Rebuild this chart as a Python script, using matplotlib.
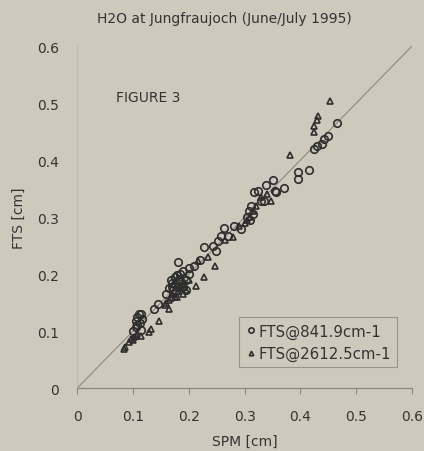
import matplotlib.pyplot as plt

# values (SPM vs FTS total column, cm)
spm_841 = [0.465, 0.450, 0.443, 0.438, 0.429, 0.425, 0.416, 0.396, 0.396, 0.371,
           0.355, 0.357, 0.351, 0.339, 0.317, 0.324, 0.312, 0.330, 0.335, 0.308,
           0.315, 0.281, 0.263, 0.294, 0.270, 0.258, 0.252, 0.243, 0.227, 0.249,
           0.180, 0.190, 0.185, 0.200, 0.175, 0.195, 0.170, 0.180, 0.165, 0.190,
           0.175, 0.160, 0.144, 0.137, 0.110, 0.108, 0.117, 0.105, 0.108, 0.114,
           0.100, 0.115, 0.210, 0.220, 0.200, 0.305, 0.310, 0.185, 0.170, 0.195,
           0.168, 0.178, 0.188, 0.172, 0.182, 0.112, 0.106]
fts_841 = [0.465, 0.442, 0.437, 0.428, 0.425, 0.419, 0.382, 0.379, 0.367, 0.351,
           0.346, 0.344, 0.365, 0.356, 0.344, 0.346, 0.319, 0.328, 0.328, 0.310,
           0.305, 0.284, 0.281, 0.279, 0.267, 0.267, 0.258, 0.249, 0.247, 0.240,
           0.221, 0.205, 0.200, 0.200, 0.195, 0.190, 0.185, 0.180, 0.175, 0.178,
           0.168, 0.165, 0.147, 0.139, 0.130, 0.125, 0.121, 0.118, 0.110, 0.102,
           0.100, 0.130, 0.215, 0.225, 0.210, 0.300, 0.295, 0.188, 0.178, 0.172,
           0.190, 0.198, 0.185, 0.172, 0.192, 0.115, 0.108]

spm_2612 = [0.452, 0.432, 0.425, 0.425, 0.430, 0.382, 0.348, 0.320, 0.310, 0.305,
            0.315, 0.300, 0.279, 0.234, 0.216, 0.247, 0.227, 0.213, 0.200, 0.190,
            0.185, 0.180, 0.170, 0.175, 0.165, 0.160, 0.190, 0.164, 0.146, 0.132,
            0.128, 0.114, 0.101, 0.092, 0.086, 0.083, 0.100, 0.108, 0.265, 0.290,
            0.330, 0.340, 0.178, 0.168, 0.158, 0.172, 0.183, 0.195, 0.105, 0.096]
fts_2612 = [0.504, 0.477, 0.460, 0.449, 0.470, 0.409, 0.328, 0.320, 0.300, 0.295,
            0.310, 0.290, 0.265, 0.230, 0.223, 0.214, 0.195, 0.179, 0.190, 0.185,
            0.175, 0.170, 0.165, 0.160, 0.155, 0.150, 0.165, 0.139, 0.118, 0.104,
            0.098, 0.091, 0.089, 0.081, 0.072, 0.068, 0.085, 0.095, 0.260, 0.285,
            0.335, 0.340, 0.160, 0.158, 0.145, 0.182, 0.178, 0.172, 0.092, 0.086]

ticks = [0, 0.1, 0.2, 0.3, 0.4, 0.5, 0.6]
tick_labels = ['0', '0.1', '0.2', '0.3', '0.4', '0.5', '0.6']

bg = '#cdcabd'
ink = '#2e2e2e'

fig = plt.figure(figsize=(4.24, 4.52), dpi=100, facecolor=bg)
ax = fig.add_axes([0.182, 0.139, 0.790, 0.757], facecolor=bg)

# 1:1 line
ax.plot([0, 0.6], [0, 0.6], color='#8a877e', linewidth=0.8, zorder=1)

ax.plot(spm_841, fts_841, linestyle='none', marker='o', markersize=5.4,
        markerfacecolor='none', markeredgecolor=ink, markeredgewidth=1.2,
        label='FTS@841.9cm-1', zorder=3)
ax.plot(spm_2612, fts_2612, linestyle='none', marker='^', markersize=4.6,
        markerfacecolor='none', markeredgecolor=ink, markeredgewidth=1.2,
        label='FTS@2612.5cm-1', zorder=3)

ax.set_xlim(0, 0.6)
ax.set_ylim(0, 0.6)
ax.set_xticks(ticks)
ax.set_xticklabels(tick_labels)
ax.set_yticks(ticks)
ax.set_yticklabels(tick_labels)
ax.tick_params(axis='x', colors='#8a877e', labelcolor='#333333', labelsize=10,
               length=4, pad=11)
ax.tick_params(axis='y', length=0, labelcolor='#333333', labelsize=10, pad=13)

for side in ['top', 'right']:
    ax.spines[side].set_visible(False)
ax.spines['left'].set_color('#bdbaae')
ax.spines['left'].set_linewidth(0.8)
ax.spines['bottom'].set_color('#8a877e')
ax.spines['bottom'].set_linewidth(0.9)

ax.set_xlabel('SPM [cm]', fontsize=10, color='#333333', labelpad=8)
ax.set_ylabel('FTS [cm]', fontsize=10, color='#333333', labelpad=8)
fig.text(0.53, 0.958, 'H2O at Jungfraujoch (June/July 1995)', ha='center',
         va='center', fontsize=10, color='#333333')
ax.text(0.07, 0.51, 'FIGURE 3', fontsize=10, color='#333333', va='center')

leg = ax.legend(loc='lower right', bbox_to_anchor=(0.955, 0.061), fontsize=10.8,
                frameon=True, fancybox=False, handletextpad=0.1,
                handlelength=0.8, markerscale=0.7, borderpad=0.4,
                labelspacing=0.5, borderaxespad=0)
leg.get_frame().set_facecolor(bg)
leg.get_frame().set_edgecolor('#8a877e')
leg.get_frame().set_linewidth(0.8)
for t in leg.get_texts():
    t.set_color('#333333')

fig.savefig('out.png', dpi=100, facecolor=bg)
